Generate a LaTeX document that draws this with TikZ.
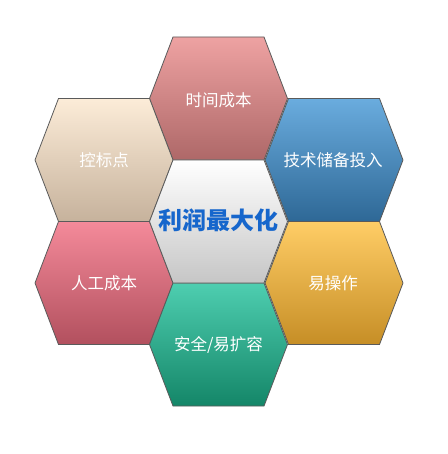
\documentclass[tikz,border=0pt]{standalone}
\usepackage{fontspec}
\setmainfont{Noto Sans CJK SC}
\definecolor{edge}{RGB}{90,90,90}
\definecolor{redT}{RGB}{238,162,162}\definecolor{redB}{RGB}{174,104,104}
\definecolor{tanT}{RGB}{252,236,216}\definecolor{tanB}{RGB}{198,178,156}
\definecolor{bluT}{RGB}{106,172,222}\definecolor{bluB}{RGB}{46,104,150}
\definecolor{gryT}{RGB}{255,255,255}\definecolor{gryB}{RGB}{198,198,198}
\definecolor{yelT}{RGB}{255,205,102}\definecolor{yelB}{RGB}{198,142,38}
\definecolor{pnkT}{RGB}{244,138,154}\definecolor{pnkB}{RGB}{178,80,94}
\definecolor{grnT}{RGB}{78,206,176}\definecolor{grnB}{RGB}{20,134,104}
\definecolor{titleblue}{RGB}{22,102,204}
\tikzset{
  hexpath/.style={draw=edge,line width=0.8pt},
  lbl/.style={text=white,font=\fontsize{16.5}{18}\selectfont,inner sep=0pt},
  ttl/.style={text=titleblue,font=\fontsize{24}{26}\selectfont\bfseries,inner sep=0pt}
}
\newcommand\hexat[3]{%
  \path[hexpath,top color=#2,bottom color=#3]
    ($(#1)+(-45.5,-61.5)$) -- ($(#1)+(45.5,-61.5)$) -- ($(#1)+(69,0)$) --
    ($(#1)+(45.5,61.5)$) -- ($(#1)+(-45.5,61.5)$) -- ($(#1)+(-69,0)$) -- cycle;}
\usetikzlibrary{calc}
\begin{document}
\begin{tikzpicture}[x=1pt,y=-1pt]
\useasboundingbox (0,0) rectangle (447,454);
\coordinate (cT) at (218.5,98.5);
\coordinate (cUL) at (104,160);
\coordinate (cUR) at (334,160);
\coordinate (cC) at (218.5,221.5);
\coordinate (cLL) at (104,283);
\coordinate (cLR) at (334,283);
\coordinate (cB) at (218.5,344.5);
\hexat{cT}{redT}{redB}
\hexat{cUL}{tanT}{tanB}
\hexat{cUR}{bluT}{bluB}
\hexat{cLL}{pnkT}{pnkB}
\hexat{cLR}{yelT}{yelB}
\hexat{cB}{grnT}{grnB}
\hexat{cC}{gryT}{gryB}
\node[lbl] (time) at (218.5,100) {时间成本};
\node[lbl] (bid) at (104,160) {控标点};
\node[lbl] (tech) at (333,160) {技术储备投入};
\node[lbl] (labor) at (104,283) {人工成本};
\node[lbl] (easy) at (333,283) {易操作};
\node[lbl] (safe) at (218.5,345) {安全/易扩容};
\node[ttl] (profit) at (218.5,220) {利润最大化};
\end{tikzpicture}
\end{document}
